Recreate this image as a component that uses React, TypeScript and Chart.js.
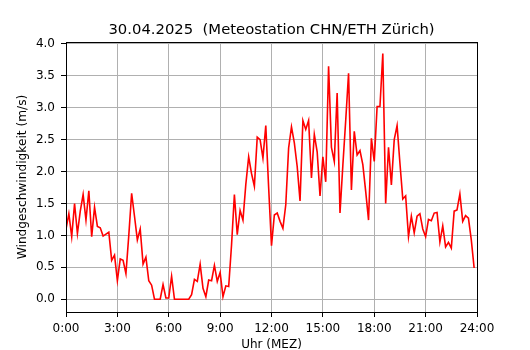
import React, { useEffect, useRef } from "react";
import { Chart, registerables } from "chart.js";

Chart.register(...registerables);

const TITLE = "30.04.2025  (Meteostation CHN/ETH Zürich)";
const X_LABEL = "Uhr (MEZ)";
const Y_LABEL = "Windgeschwindigkeit (m/s)";
const SAMPLE_MINUTES = 10;

// wind speed (m/s), one value every 10 minutes from 0:00 to 23:50
const windSpeed = [
  1.10, 1.34, 0.98, 1.50, 1.03, 1.38, 1.64, 1.24, 1.70, 0.98, 1.44, 1.14,
  1.12, 0.99, 1.02, 1.05, 0.61, 0.69, 0.29, 0.63, 0.61, 0.40, 1.00, 1.66,
  1.30, 0.93, 1.10, 0.55, 0.66, 0.29, 0.22, 0.00, 0.00, 0.00, 0.23, 0.02,
  0.02, 0.36, 0.00, 0.00, 0.00, 0.00, 0.00, 0.00, 0.07, 0.31, 0.28, 0.55,
  0.17, 0.04, 0.30, 0.29, 0.53, 0.28, 0.42, 0.04, 0.21, 0.20, 0.85, 1.64,
  1.01, 1.39, 1.24, 1.80, 2.23, 1.97, 1.77, 2.54, 2.50, 2.21, 2.72, 1.75,
  0.84, 1.32, 1.35, 1.22, 1.11, 1.48, 2.37, 2.70, 2.45, 2.08, 1.54, 2.80,
  2.66, 2.80, 1.90, 2.58, 2.31, 1.62, 2.23, 1.84, 3.65, 2.38, 2.16, 3.23,
  1.35, 2.10, 2.80, 3.54, 1.71, 2.63, 2.26, 2.33, 2.11, 1.69, 1.24, 2.52,
  2.16, 3.02, 3.02, 3.85, 1.50, 2.38, 1.79, 2.50, 2.72, 2.13, 1.57, 1.62,
  0.98, 1.30, 1.04, 1.30, 1.34, 1.10, 0.98, 1.25, 1.23, 1.35, 1.36, 0.90,
  1.15, 0.82, 0.89, 0.80, 1.38, 1.40, 1.65, 1.22, 1.31, 1.27, 0.93, 0.49,
];

const xTickHours = [0, 3, 6, 9, 12, 15, 18, 21, 24];
const yTickValues = [0, 0.5, 1, 1.5, 2, 2.5, 3, 3.5, 4];

const FONT = "'DejaVu Sans', 'Liberation Sans', sans-serif";

export default function App() {
  const canvasRef = useRef<HTMLCanvasElement | null>(null);

  useEffect(() => {
    const canvas = canvasRef.current;
    if (!canvas) return;

    const points = windSpeed.map((v, i) => ({ x: (i * SAMPLE_MINUTES) / 60, y: v }));

    const framePlugin = {
      id: "frame",
      afterDraw(chart: any) {
        const { ctx, chartArea: a } = chart;
        ctx.save();
        ctx.strokeStyle = "#000";
        ctx.lineWidth = 1;
        const l = Math.floor(a.left) + 0.5;
        const t = Math.floor(a.top) + 0.5;
        const r = Math.floor(a.right) + 0.5;
        const b = Math.floor(a.bottom) + 0.5;
        ctx.strokeRect(l, t, r - l, b - t);
        ctx.restore();
      },
    };

    const chart = new Chart(canvas, {
      type: "line",
      data: {
        datasets: [
          {
            data: points,
            borderColor: "#ff0000",
            borderWidth: 1.6,
            pointRadius: 0,
            tension: 0,
            fill: false,
          },
        ],
      },
      options: {
        responsive: false,
        animation: false,
        devicePixelRatio: 1,
        layout: { padding: { left: 0, right: 53, top: 0, bottom: 0 } },
        plugins: {
          legend: { display: false },
          tooltip: { enabled: false },
          title: {
            display: true,
            text: TITLE,
            color: "#000",
            fullSize: false,
            font: { family: FONT, size: 14.8, weight: "normal", lineHeight: 1.2 },
            padding: { top: 20.8, bottom: 3.44 },
          },
        },
        scales: {
          x: {
            type: "linear",
            min: 0,
            max: 24,
            afterBuildTicks: (scale: any) => {
              scale.ticks = xTickHours.map((v) => ({ value: v }));
            },
            afterFit: (scale: any) => {
              scale.height = 38;
            },
            ticks: {
              color: "#000",
              font: { family: FONT, size: 12 },
              padding: 5,
              maxRotation: 0,
              autoSkip: false,
              callback: (v: any) => `${v}:00`,
            },
            grid: {
              color: "#b0b0b0",
              lineWidth: 1,
              tickColor: "#000",
              tickLength: 5,
              tickWidth: 1,
            },
            border: { display: true, color: "#000", width: 1 },
            title: {
              display: true,
              text: X_LABEL,
              color: "#000",
              font: { family: FONT, size: 12, lineHeight: 0.8 },
              padding: { top: 0, bottom: 0 },
            },
          },
          y: {
            type: "linear",
            min: -0.2,
            max: 4.03,
            afterBuildTicks: (scale: any) => {
              scale.ticks = yTickValues.map((v) => ({ value: v }));
            },
            afterFit: (scale: any) => {
              scale.width = 66;
            },
            ticks: {
              color: "#000",
              font: { family: FONT, size: 12 },
              padding: 6,
              autoSkip: false,
              callback: (v: any) => Number(v).toFixed(1),
            },
            grid: {
              color: "#b0b0b0",
              lineWidth: 1,
              tickColor: "#000",
              tickLength: 5,
              tickWidth: 1,
            },
            border: { display: true, color: "#000", width: 1 },
            title: {
              display: true,
              text: Y_LABEL,
              color: "#000",
              font: { family: FONT, size: 12.2, lineHeight: 1.2 },
              padding: { top: 15.8, bottom: 0 },
            },
          },
        },
      },
      plugins: [framePlugin],
    });

    return () => {
      chart.destroy();
    };
  }, []);

  return (
    <div
      style={{
        position: "absolute",
        left: 0,
        top: 0,
        width: 530,
        height: 350,
        background: "#fff",
      }}
    >
      <canvas ref={canvasRef} width={530} height={350} style={{ display: "block" }} />
    </div>
  );
}
